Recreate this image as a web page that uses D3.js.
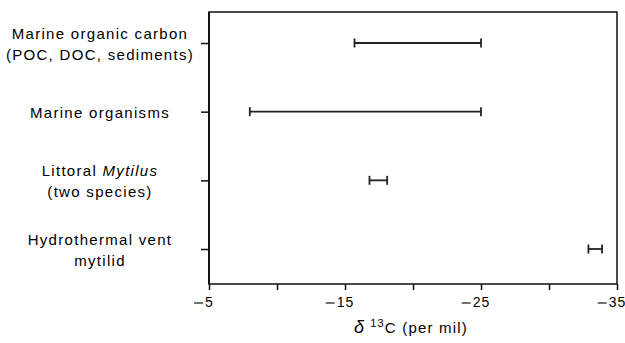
<!DOCTYPE html>
<meta charset="utf-8">
<style>
  body { margin: 0; background: #fff; }
  text { font-family: "Liberation Sans", Arial, sans-serif; fill: #000; }
</style>
<script src="https://d3js.org/d3.v7.min.js"></script>
<body>
<script>

// categories, top to bottom (lines of each label; *...* = italic)
var categories = ["moc", "morg", "mytilus", "vent"];
var labelLines = [
  ["Marine organic carbon", "(POC, DOC, sediments)"],
  ["Marine organisms"],
  ["Littoral *Mytilus*", "(two species)"],
  ["Hydrothermal vent", "mytilid"]
];
// delta 13C ranges (per mil)
var lowValues  = [-15.7, -8.0, -16.8, -32.9];
var highValues = [-25.0, -25.0, -18.1, -33.9];

var xTicks = [-5, -10, -15, -20, -25, -30, -35];
var xTickLabels = [-5, -15, -25, -35];

var W = 625, H = 343;
var margin = {top: 12, right: 8, bottom: 59, left: 209};
var w = W - margin.left - margin.right,
    h = H - margin.top - margin.bottom;

var svg = d3.select("body").append("svg")
    .attr("width", W)
    .attr("height", H);

var g = svg.append("g")
    .attr("transform", "translate(" + margin.left + "," + margin.top + ")");

var x = d3.scaleLinear().domain([-5, -35]).range([0, w]);
var y = d3.scalePoint().domain(categories).range([31, 237]);

// frame
g.append("rect")
    .attr("width", w).attr("height", h)
    .attr("fill", "none").attr("stroke", "#111").attr("stroke-width", 1.5);
g.append("line")
    .attr("x1", 0).attr("x2", 0).attr("y1", 0).attr("y2", h)
    .attr("stroke", "#111").attr("stroke-width", 2);

// x axis
var xAxis = g.append("g")
    .attr("transform", "translate(0," + h + ")")
    .call(d3.axisBottom(x).tickValues(xTicks).tickSize(6).tickPadding(7)
      .tickFormat(function(d) { return xTickLabels.includes(d) ? Math.abs(d) : ""; }));
xAxis.select(".domain").remove();
xAxis.selectAll(".tick line").attr("stroke", "#111").attr("stroke-width", 1.5);
xAxis.selectAll(".tick text")
    .attr("font-size", 14)
    .attr("letter-spacing", 1)
    .attr("fill", "#000")
    .attr("font-family", "\"Liberation Sans\", Arial, sans-serif");
// minus signs hang to the left of the digits
xAxis.selectAll(".tick").each(function(d) {
  if (!xTickLabels.includes(d)) return;
  var t = d3.select(this).select("text");
  var wd = t.node().getComputedTextLength();
  d3.select(this).append("line")
      .attr("x1", -wd / 2 - 11).attr("x2", -wd / 2 - 2)
      .attr("y1", 19).attr("y2", 19)
      .attr("stroke", "#111").attr("stroke-width", 1.2);
});

// y axis ticks
var yAxis = g.append("g")
    .call(d3.axisLeft(y).tickSize(8).tickFormat(""));
yAxis.select(".domain").remove();
yAxis.selectAll(".tick line").attr("stroke", "#111").attr("stroke-width", 1.5);

// category labels
categories.forEach(function(c, i) {
  var lines = labelLines[i];
  var t = svg.append("text")
      .attr("text-anchor", "middle")
      .attr("font-size", 15)
      .attr("letter-spacing", 1.3);
  lines.forEach(function(line, j) {
    var yy = margin.top + y(c) + (lines.length === 1 ? 6 : (j === 0 ? -4 : 17));
    var tl = t.append("tspan").attr("x", 100).attr("y", yy);
    line.split("*").forEach(function(part, k) {
      if (!part) return;
      tl.append("tspan")
          .attr("font-style", k % 2 ? "italic" : "normal")
          .text(part);
    });
  });
});

// range bars
var bars = g.selectAll(".bar")
    .data(categories)
    .enter().append("g")
    .attr("class", "bar")
    .attr("stroke", "#222")
    .attr("stroke-width", 1.8);

bars.append("line")
    .attr("x1", function(d, i) { return x(lowValues[i]); })
    .attr("x2", function(d, i) { return x(highValues[i]); })
    .attr("y1", function(d) { return y(d); })
    .attr("y2", function(d) { return y(d); });
bars.append("line")
    .attr("x1", function(d, i) { return x(lowValues[i]); })
    .attr("x2", function(d, i) { return x(lowValues[i]); })
    .attr("y1", function(d) { return y(d) - 4.5; })
    .attr("y2", function(d) { return y(d) + 4.5; });
bars.append("line")
    .attr("x1", function(d, i) { return x(highValues[i]); })
    .attr("x2", function(d, i) { return x(highValues[i]); })
    .attr("y1", function(d) { return y(d) - 4.5; })
    .attr("y2", function(d) { return y(d) + 4.5; });

// x axis title
var title = svg.append("text")
    .attr("x", margin.left + x(-20) - 2)
    .attr("y", 333)
    .attr("text-anchor", "middle")
    .attr("font-size", 15)
    .attr("letter-spacing", 1.2);
title.append("tspan").attr("font-style", "italic").attr("font-size", 18).text("\u03b4");
title.append("tspan").attr("font-size", 11).attr("dy", -6).attr("dx", 5).text("13");
title.append("tspan").attr("dy", 6).text("C (per mil)");

</script>
</body>
